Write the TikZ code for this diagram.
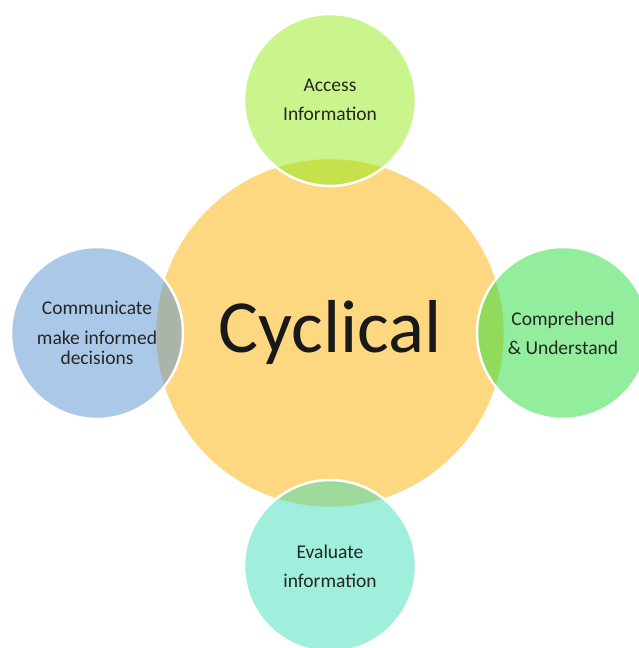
\documentclass[tikz,border=0pt]{standalone}
\usepackage{fontspec}
\setmainfont{Carlito}
\usetikzlibrary{positioning}

\definecolor{coreyellow}{RGB}{253,216,128}
\definecolor{accessgreen}{RGB}{147,235,25}
\definecolor{comprehendgreen}{RGB}{37,221,57}
\definecolor{evaluateteal}{RGB}{65,221,185}
\definecolor{communicateblue}{RGB}{89,145,209}

\begin{document}
\begin{tikzpicture}[node distance=233pt,
 core node/.style={circle,draw=white,line width=2.5pt,fill=coreyellow,
   minimum size=350pt,inner sep=0pt,text=black!90,font=\fontsize{75}{80}\selectfont},
 sat node/.style={circle,draw=white,line width=2.5pt,fill opacity=0.5,
   text opacity=1,minimum size=172pt,inner sep=0pt,align=center,
   text=black!85,font=\fontsize{19.5}{23}\selectfont}]
\useasboundingbox (-330pt,-315pt) rectangle (308pt,333pt);
\node[core node](core) at (0,0){Cyclical};
 \node[sat node,fill=accessgreen](access)[above of = core]{Access\\[6pt]Information};
 \node[sat node,fill=comprehendgreen](comprehend)[right of = core]{Comprehend\\[6pt]\&~Understand};
 \node[sat node,fill=evaluateteal](evaluate)[below of = core]{Evaluate\\[6pt]information};
 \node[sat node,fill=communicateblue](communicate)[left of = core]{Communicate\\[7pt]make informed\\[-3pt]decisions};
\end{tikzpicture}
\end{document}
